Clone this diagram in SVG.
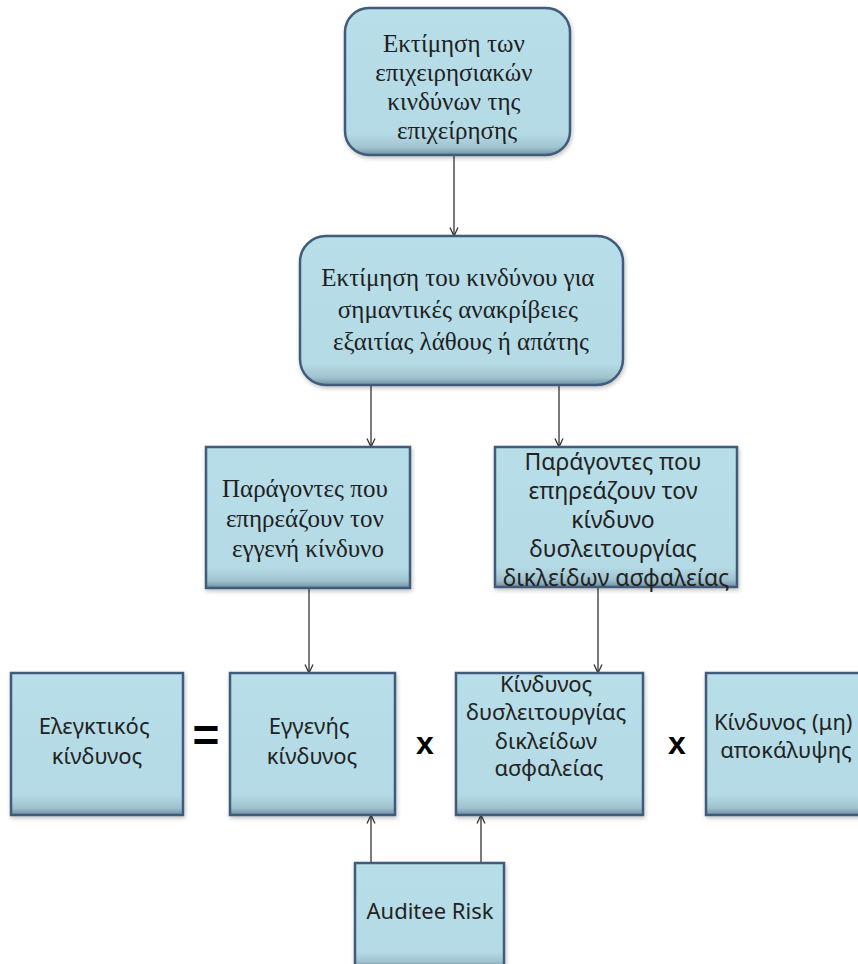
<svg xmlns="http://www.w3.org/2000/svg" width="858" height="964" viewBox="0 0 858 964">
  <defs>
    <linearGradient id="fillV" x1="0" y1="0" x2="0" y2="1">
      <stop offset="0" stop-color="#b8dee9"/>
      <stop offset="0.86" stop-color="#b4dae5"/>
      <stop offset="0.95" stop-color="#9fc2cf"/>
      <stop offset="1" stop-color="#6f8ea3"/>
    </linearGradient>
    <filter id="shadow" x="-10%" y="-10%" width="120%" height="125%">
      <feGaussianBlur in="SourceAlpha" stdDeviation="2"/>
      <feOffset dx="1" dy="2" result="b"/>
      <feComponentTransfer><feFuncA type="linear" slope="0.25"/></feComponentTransfer>
      <feMerge><feMergeNode/><feMergeNode in="SourceGraphic"/></feMerge>
    </filter>
    <marker id="arrow" viewBox="0 0 10 10" refX="9.5" refY="5" markerWidth="10" markerHeight="10" markerUnits="userSpaceOnUse" orient="auto">
      <path d="M1,1 L9.5,5 L1,9" fill="none" stroke="#333" stroke-width="1.3"/>
    </marker>
  </defs>
  <style>
    .box { fill: url(#fillV); stroke: #3f5b7a; stroke-width: 2.5; filter: url(#shadow); }
    .serif { font-family: "Liberation Serif", "DejaVu Serif", serif; font-size: 25px; fill: #1f1f1f; text-anchor: middle; }
    .sans { font-family: "Noto Sans", "DejaVu Sans", sans-serif; font-size: 22px; fill: #222; text-anchor: middle; }
    .op { font-family: "Liberation Sans", Arial, sans-serif; font-weight: bold; fill: #000; text-anchor: middle; }
    .conn line { stroke: #333; stroke-width: 1.3; marker-end: url(#arrow); }
  </style>
  <rect width="858" height="964" fill="#ffffff"/>

  <!-- connectors -->
  <g id="connectors" class="conn">
    <line x1="454" y1="155" x2="454" y2="236"/>
    <line x1="371" y1="385" x2="371" y2="447"/>
    <line x1="559" y1="385" x2="559" y2="447"/>
    <line x1="309" y1="588" x2="309" y2="673"/>
    <line x1="598" y1="588" x2="598" y2="673"/>
    <line x1="371" y1="863" x2="371" y2="815"/>
    <line x1="481" y1="863" x2="481" y2="815"/>
  </g>

  <!-- business risk assessment -->
  <g id="n-business-risk">
    <rect class="box" x="345" y="8" width="225" height="147" rx="24"/>
    <text class="serif">
      <tspan x="457" y="52">Εκτίμηση των</tspan>
      <tspan x="457" y="81">επιχειρησιακών</tspan>
      <tspan x="457" y="110">κινδύνων της</tspan>
      <tspan x="457" y="139">επιχείρησης</tspan>
    </text>
  </g>

  <!-- material misstatement risk assessment -->
  <g id="n-misstatement">
    <rect class="box" x="300" y="236" width="323" height="149" rx="26"/>
    <text class="serif">
      <tspan x="461" y="286">Εκτίμηση του κινδύνου για</tspan>
      <tspan x="461" y="318">σημαντικές ανακρίβειες</tspan>
      <tspan x="461" y="350">εξαιτίας λάθους ή απάτης</tspan>
    </text>
  </g>

  <!-- factors: inherent risk -->
  <g id="n-inherent-factors">
    <rect class="box" x="206" y="447" width="204" height="141"/>
    <text class="serif">
      <tspan x="308" y="497">Παράγοντες που</tspan>
      <tspan x="308" y="527">επηρεάζουν τον</tspan>
      <tspan x="308" y="557">εγγενή κίνδυνο</tspan>
    </text>
  </g>

  <!-- factors: control risk -->
  <g id="n-control-factors">
    <rect class="box" x="495" y="447" width="242" height="140"/>
    <text class="sans" style="font-size:23px">
      <tspan x="616" y="470">Παράγοντες που</tspan>
      <tspan x="616" y="499">επηρεάζουν τον</tspan>
      <tspan x="616" y="528">κίνδυνο</tspan>
      <tspan x="616" y="557">δυσλειτουργίας</tspan>
      <tspan x="616" y="586">δικλείδων ασφαλείας</tspan>
    </text>
  </g>

  <!-- audit risk -->
  <g id="n-audit-risk">
    <rect class="box" x="11" y="673" width="172" height="142"/>
    <text class="sans">
      <tspan x="97" y="734">Ελεγκτικός</tspan>
      <tspan x="97" y="764">κίνδυνος</tspan>
    </text>
  </g>

  <text class="op" x="206" y="751" font-size="46">=</text>

  <!-- inherent risk -->
  <g id="n-inherent-risk">
    <rect class="box" x="230" y="673" width="165" height="142"/>
    <text class="sans">
      <tspan x="312" y="734">Εγγενής</tspan>
      <tspan x="312" y="764">κίνδυνος</tspan>
    </text>
  </g>

  <text class="op" x="425" y="754" font-size="32">x</text>

  <!-- control risk -->
  <g id="n-control-risk">
    <rect class="box" x="456" y="673" width="187" height="142"/>
    <text class="sans">
      <tspan x="549" y="692">Κίνδυνος</tspan>
      <tspan x="549" y="720">δυσλειτουργίας</tspan>
      <tspan x="549" y="749">δικλείδων</tspan>
      <tspan x="549" y="776">ασφαλείας</tspan>
    </text>
  </g>

  <text class="op" x="677" y="754" font-size="32">x</text>

  <!-- detection risk -->
  <g id="n-detection-risk">
    <rect class="box" x="706" y="673" width="170" height="142"/>
    <text class="sans">
      <tspan x="786" y="730">Κίνδυνος (μη)</tspan>
      <tspan x="786" y="758">αποκάλυψης</tspan>
    </text>
  </g>

  <!-- auditee risk -->
  <g id="n-auditee-risk">
    <rect class="box" x="355" y="863" width="149" height="104"/>
    <text class="sans" x="430" y="919">Auditee Risk</text>
  </g>
</svg>
